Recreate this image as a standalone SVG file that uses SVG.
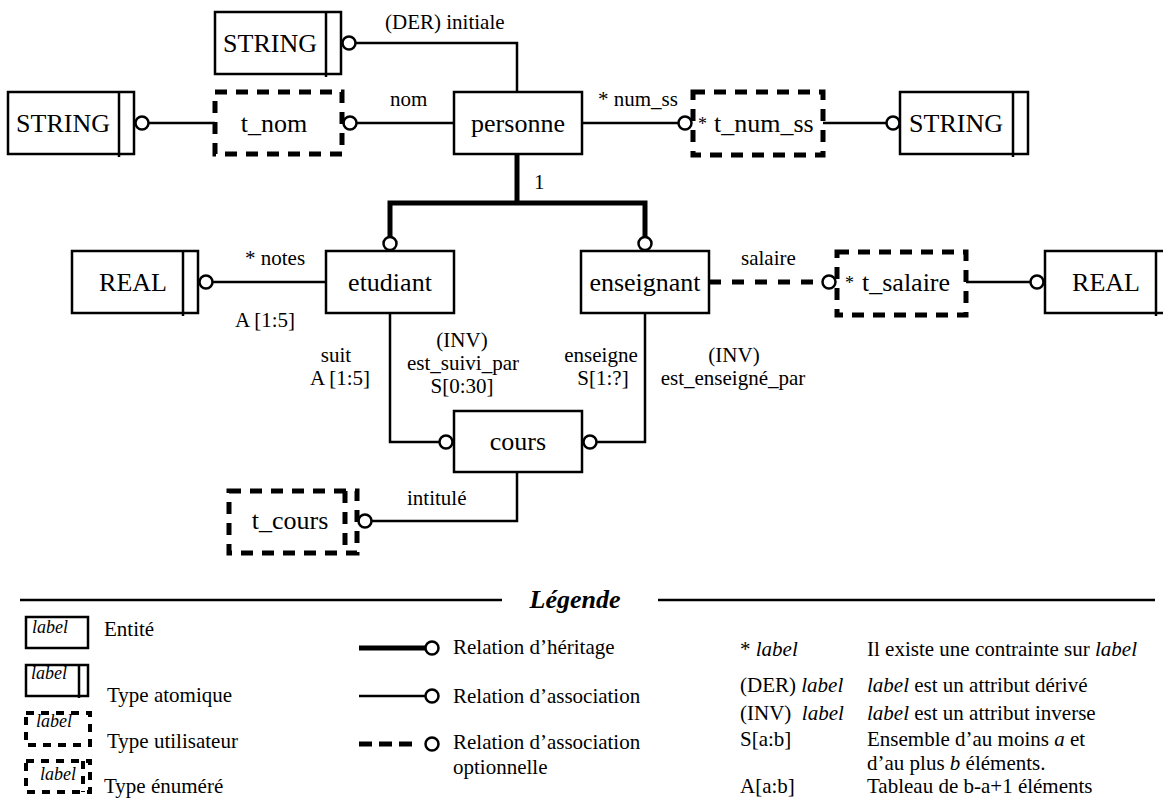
<svg xmlns="http://www.w3.org/2000/svg" width="1163" height="803" viewBox="0 0 1163 803">
  <style>
    text { font-family: "Liberation Serif", "Times New Roman", serif; fill: #000; }
    .box { fill: #fff; stroke: #000; stroke-width: 2.5; }
    .bar { stroke: #000; stroke-width: 2.5; fill: none; }
    .dbox { fill: #fff; stroke: #000; stroke-width: 5; stroke-dasharray: 12 9; }
    .dline { fill: none; stroke: #000; stroke-width: 5; stroke-dasharray: 12 9; }
    .lbl { font-size: 26px; text-anchor: middle; }
    .edge { font-size: 21px; }
    .mid { text-anchor: middle; }
    .assoc { fill: none; stroke: #000; stroke-width: 2.5; }
    .herit { fill: none; stroke: #000; stroke-width: 5; }
    .opt { fill: none; stroke: #000; stroke-width: 5; stroke-dasharray: 12 11; }
    .end { fill: #fff; stroke: #000; stroke-width: 2.5; }
    .leg { font-size: 21px; }
    .it { font-style: italic; }
    .small { font-size: 18px; font-style: italic; }
    .ldbox { fill: #fff; stroke: #000; stroke-width: 4; stroke-dasharray: 8 7; }
  </style>

  <!-- connectors -->
  <g id="connectors">
    <!-- personne : (DER) initiale -->
    <path class="assoc" d="M517,92 V43 H355.5"/>
    <circle class="end" cx="349" cy="43" r="6.5"/>
    <!-- t_nom -> STRING -->
    <path class="assoc" d="M215,123 H148.5"/>
    <circle class="end" cx="142" cy="123" r="6.5"/>
    <!-- personne : nom -->
    <path class="assoc" d="M454,123 H356.5"/>
    <circle class="end" cx="350" cy="123" r="6.5"/>
    <!-- personne : num_ss -->
    <path class="assoc" d="M582,123 H678.5"/>
    <circle class="end" cx="685" cy="123" r="6.5"/>
    <!-- t_num_ss -> STRING -->
    <path class="assoc" d="M823,123 H886.5"/>
    <circle class="end" cx="893" cy="123" r="6.5"/>
    <!-- inheritance -->
    <path class="herit" d="M517,154 V203"/>
    <path class="herit" d="M390,237 V203 H645 V237"/>
    <circle class="end" cx="390" cy="243.5" r="6.5"/>
    <circle class="end" cx="645" cy="243.5" r="6.5"/>
    <!-- etudiant : notes -->
    <path class="assoc" d="M326,282 H212.5"/>
    <circle class="end" cx="206" cy="282" r="6.5"/>
    <!-- etudiant : suit -->
    <path class="assoc" d="M390,313 V442 H439.5"/>
    <circle class="end" cx="446" cy="442" r="6.5"/>
    <!-- enseignant : enseigne -->
    <path class="assoc" d="M645,313 V442 H596.5"/>
    <circle class="end" cx="590" cy="442" r="6.5"/>
    <!-- enseignant : salaire (optional) -->
    <path class="opt" d="M709,282 H822.5"/>
    <circle class="end" cx="829" cy="282" r="6.5"/>
    <!-- t_salaire -> REAL -->
    <path class="assoc" d="M966,282 H1030.5"/>
    <circle class="end" cx="1037" cy="282" r="6.5"/>
    <!-- cours : intitulé -->
    <path class="assoc" d="M517,472 V521 H371.5"/>
    <circle class="end" cx="365" cy="521" r="6.5"/>

    <!-- connector labels -->
    <text class="edge" x="385" y="29">(DER) initiale</text>
    <text class="edge" x="390" y="106">nom</text>
    <text class="edge" x="598" y="106">* num_ss</text>
    <text class="edge" x="534" y="189">1</text>
    <text class="edge" x="245" y="265">* notes</text>
    <text class="edge" x="235" y="327">A [1:5]</text>
    <text class="edge" x="741" y="265">salaire</text>
    <text class="edge mid" x="336" y="362">suit</text>
    <text class="edge mid" x="340" y="385">A [1:5]</text>
    <text class="edge mid" x="462" y="347">(INV)</text>
    <text class="edge mid" x="463" y="370">est_suivi_par</text>
    <text class="edge mid" x="462" y="393">S[0:30]</text>
    <text class="edge mid" x="601" y="362">enseigne</text>
    <text class="edge mid" x="603" y="385">S[1:?]</text>
    <text class="edge mid" x="734" y="362">(INV)</text>
    <text class="edge mid" x="733" y="385">est_enseigné_par</text>
    <text class="edge" x="407" y="505">intitulé</text>
  </g>

  <!-- nodes -->
  <g id="string-derived">
    <rect class="box" x="215" y="12" width="126" height="62"/>
    <path class="bar" d="M326,12 V77"/>
    <text class="lbl" x="270" y="52">STRING</text>
  </g>
  <g id="string-nom">
    <rect class="box" x="8" y="92" width="126" height="62"/>
    <path class="bar" d="M119,92 V157"/>
    <text class="lbl" x="63" y="132">STRING</text>
  </g>
  <g id="t_nom">
    <rect class="dbox" x="215" y="92" width="127" height="62"/>
    <text class="lbl" x="274" y="132">t_nom</text>
  </g>
  <g id="personne">
    <rect class="box" x="454" y="92" width="128" height="62"/>
    <text class="lbl" x="518" y="132">personne</text>
  </g>
  <g id="t_num_ss">
    <rect class="dbox" x="693" y="92" width="130" height="63"/>
    <text x="698" y="130" font-size="18">*</text>
    <text x="714" y="132" font-size="26">t_num_ss</text>
  </g>
  <g id="string-num_ss">
    <rect class="box" x="900" y="92" width="128" height="62"/>
    <path class="bar" d="M1013,92 V157"/>
    <text class="lbl" x="956" y="132">STRING</text>
  </g>
  <g id="real-notes">
    <rect class="box" x="72" y="251" width="126" height="62"/>
    <path class="bar" d="M183,251 V316"/>
    <text class="lbl" x="133" y="291">REAL</text>
  </g>
  <g id="etudiant">
    <rect class="box" x="326" y="251" width="128" height="62"/>
    <text class="lbl" x="390" y="291">etudiant</text>
  </g>
  <g id="enseignant">
    <rect class="box" x="581" y="251" width="128" height="62"/>
    <text class="lbl" x="645" y="291">enseignant</text>
  </g>
  <g id="t_salaire">
    <rect class="dbox" x="837" y="252" width="129" height="63"/>
    <text x="845" y="289" font-size="18">*</text>
    <text x="862" y="291" font-size="26">t_salaire</text>
  </g>
  <g id="real-salaire">
    <rect class="box" x="1045" y="251" width="126" height="62"/>
    <path class="bar" d="M1156,251 V316"/>
    <text class="lbl" x="1106" y="291">REAL</text>
  </g>
  <g id="cours">
    <rect class="box" x="454" y="411" width="128" height="61"/>
    <text class="lbl" x="518" y="450">cours</text>
  </g>
  <g id="t_cours">
    <rect class="dbox" x="229" y="491" width="128" height="62"/>
    <path class="dline" d="M345,491 V553"/>
    <text class="lbl" x="290" y="529">t_cours</text>
  </g>

  <!-- legend -->
  <g id="legend">
    <path d="M20,600 H502 M658,600 H1155" stroke="#000" stroke-width="2.5" fill="none"/>
    <text x="575" y="608" font-size="26" font-weight="bold" font-style="italic" text-anchor="middle">Légende</text>

    <rect class="box" x="26" y="617" width="62" height="31"/>
    <text class="small" x="32" y="633">label</text>
    <text class="leg" x="104" y="636">Entité</text>

    <rect class="box" x="26" y="665" width="62" height="31"/>
    <path class="bar" d="M79,665 V698"/>
    <text class="small" x="31" y="679">label</text>
    <text class="leg" x="107" y="702">Type atomique</text>

    <rect class="ldbox" x="26" y="713" width="64" height="32"/>
    <text class="small" x="36" y="727">label</text>
    <text class="leg" x="107" y="748">Type utilisateur</text>

    <rect class="ldbox" x="26" y="761" width="64" height="31"/>
    <path d="M83,761 V792" stroke="#000" stroke-width="4" stroke-dasharray="8 7" fill="none"/>
    <text class="small" x="40" y="780">label</text>
    <text class="leg" x="104" y="793">Type énuméré</text>

    <path class="herit" d="M359,648 H425.5"/>
    <circle class="end" cx="432" cy="648" r="6.5"/>
    <text class="leg" x="453" y="654">Relation d’héritage</text>

    <path class="assoc" d="M359,696 H425.5"/>
    <circle class="end" cx="432" cy="696" r="6.5"/>
    <text class="leg" x="453" y="703">Relation d’association</text>

    <path d="M359,744 H412" stroke="#000" stroke-width="5" stroke-dasharray="13 7" fill="none"/>
    <circle class="end" cx="432" cy="744" r="6.5"/>
    <text class="leg" x="453" y="749">Relation d’association</text>
    <text class="leg" x="453" y="774">optionnelle</text>

    <text class="leg" x="740" y="656">* <tspan class="it">label</tspan></text>
    <text class="leg" x="740" y="692">(DER) <tspan class="it">label</tspan></text>
    <text class="leg" x="740" y="720" xml:space="preserve">(INV)  <tspan class="it">label</tspan></text>
    <text class="leg" x="740" y="746">S[a:b]</text>
    <text class="leg" x="740" y="793">A[a:b]</text>

    <text class="leg" x="867" y="656">Il existe une contrainte sur <tspan class="it">label</tspan></text>
    <text class="leg" x="867" y="692"><tspan class="it">label</tspan> est un attribut dérivé</text>
    <text class="leg" x="867" y="720"><tspan class="it">label</tspan> est un attribut inverse</text>
    <text class="leg" x="867" y="746">Ensemble d’au moins <tspan class="it">a</tspan> et</text>
    <text class="leg" x="867" y="770">d’au plus <tspan class="it">b</tspan> éléments.</text>
    <text class="leg" x="867" y="793">Tableau de b-a+1 éléments</text>
  </g>
</svg>
